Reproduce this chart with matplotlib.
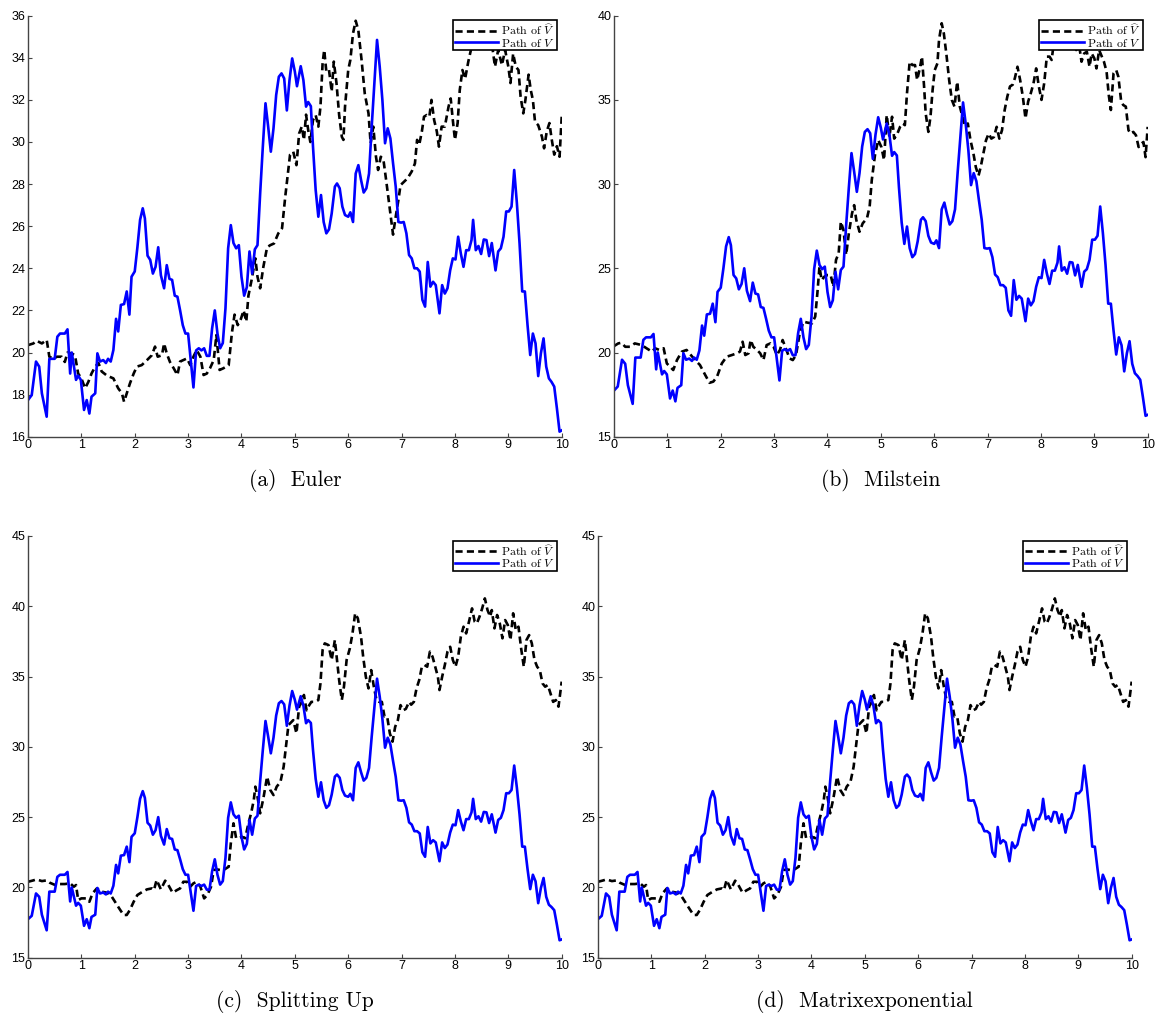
import numpy as np
import matplotlib
matplotlib.use('agg')
import matplotlib.pyplot as plt

plt.rcParams['mathtext.fontset'] = 'cm'

# time grid and exact path of V (same in every panel)
t_v = [0, 0.07, 0.15, 0.21, 0.26, 0.35, 0.4, 0.46, 0.5, 0.55, 0.6, 0.69, 0.74, 0.79, 0.82, 0.85, 0.9, 0.94, 0.99,
       1.05, 1.1, 1.15, 1.19, 1.26, 1.3, 1.35, 1.41, 1.46, 1.5, 1.55, 1.6, 1.65, 1.69, 1.74, 1.8, 1.85, 1.9, 1.94,
       2.0, 2.05, 2.1, 2.15, 2.19, 2.24, 2.29, 2.34, 2.39, 2.44, 2.49, 2.55, 2.6, 2.65, 2.7, 2.75, 2.8, 2.85, 2.9, 2.95,
       3.0, 3.05, 3.1, 3.15, 3.2, 3.25, 3.3, 3.35, 3.4, 3.45, 3.5, 3.55, 3.6, 3.65, 3.7, 3.75, 3.8, 3.85, 3.9, 3.95,
       4.0, 4.05, 4.1, 4.15, 4.2, 4.25, 4.3, 4.35, 4.4, 4.45, 4.5, 4.55, 4.6, 4.65, 4.7, 4.75, 4.8, 4.85, 4.9, 4.95,
       5.0, 5.04, 5.11, 5.16, 5.21, 5.25, 5.3, 5.34, 5.39, 5.44, 5.49, 5.54, 5.59, 5.64, 5.69, 5.75, 5.79, 5.84, 5.89, 5.94,
       6.0, 6.04, 6.09, 6.14, 6.19, 6.24, 6.29, 6.34, 6.39, 6.44, 6.49, 6.54, 6.59, 6.64, 6.69, 6.74, 6.79, 6.84, 6.89, 6.94, 6.99,
       7.04, 7.09, 7.14, 7.19, 7.24, 7.29, 7.34, 7.39, 7.44, 7.49, 7.54, 7.59, 7.64, 7.71, 7.76, 7.81, 7.86, 7.91, 7.96,
       8.01, 8.06, 8.11, 8.16, 8.21, 8.26, 8.31, 8.34, 8.39, 8.44, 8.49, 8.54, 8.59, 8.64, 8.69, 8.76, 8.81, 8.86, 8.91, 8.96,
       9.01, 9.06, 9.11, 9.16, 9.21, 9.26, 9.31, 9.36, 9.41, 9.46, 9.51, 9.56, 9.61, 9.66, 9.71, 9.76, 9.81, 9.86, 9.91, 9.96, 10.0]
v_path = [17.74, 17.98, 19.57, 19.33, 18.06, 16.95, 19.7, 19.7, 19.7, 20.75, 20.9, 20.9, 21.1, 19.0, 20.0, 19.5, 18.7, 18.9, 18.7,
          17.27, 17.74, 17.1, 17.9, 18.06, 19.96, 19.57, 19.64, 19.5, 19.7, 19.57, 20.12, 21.6, 21.0, 22.26, 22.3, 22.9, 21.8, 23.6,
          23.85, 25.0, 26.3, 26.85, 26.37, 24.6, 24.4, 23.75, 24.07, 25.0, 23.67, 23.05, 24.15, 23.5, 23.45, 22.7, 22.65, 22.0, 21.3, 20.9,
          20.9, 19.64, 18.34, 20.1, 20.2, 20.1, 20.2, 19.84, 19.84, 21.15, 22.0, 20.9, 20.2, 20.45, 22.1, 24.95, 26.05, 25.2, 24.95, 25.1,
          23.6, 22.7, 23.1, 24.8, 23.75, 24.9, 25.1, 27.56, 29.78, 31.84, 30.73, 29.54, 30.65, 32.23, 33.1, 33.26, 33.02, 31.5, 32.94, 33.97,
          33.34, 32.65, 33.6, 32.94, 31.68, 31.9, 31.7, 29.78, 27.72, 26.45, 27.48, 26.2, 25.66, 25.85, 26.6, 27.88, 28.03, 27.8, 26.93, 26.53,
          26.45, 26.66, 26.2, 28.5, 28.9, 28.2, 27.6, 27.8, 28.5, 30.73, 32.8, 34.85, 33.58, 32.0, 29.94, 30.65, 30.17, 28.99, 27.88, 26.2, 26.17,
          26.2, 25.66, 24.63, 24.47, 24.0, 24.0, 23.84, 22.5, 22.18, 24.3, 23.13, 23.36, 23.2, 21.86, 23.2, 22.8, 23.05, 23.9, 24.47,
          24.42, 25.5, 24.7, 24.07, 24.86, 24.86, 25.34, 26.3, 24.86, 25.06, 24.68, 25.37, 25.34, 24.58, 25.2, 23.9, 24.8, 24.95, 25.5, 26.7,
          26.7, 26.93, 28.67, 27.1, 25.2, 22.9, 22.9, 21.3, 19.88, 20.9, 20.43, 18.88, 19.96, 20.67, 19.33, 18.77, 18.6, 18.38, 17.35, 16.24, 16.3]

# Euler approximation
t_euler = [0, 0.1, 0.16, 0.26, 0.35, 0.4, 0.48, 0.54, 0.63, 0.69, 0.74, 0.82, 0.88, 0.94, 1.0, 1.07, 1.13, 1.19, 1.26, 1.32, 1.38,
           1.48, 1.6, 1.69, 1.76, 1.8, 1.85, 1.91, 1.98, 2.04, 2.13, 2.23, 2.32, 2.38, 2.43, 2.51, 2.55, 2.6, 2.66, 2.73, 2.8, 2.85,
           2.91, 2.98, 3.04, 3.1, 3.16, 3.23, 3.29, 3.35, 3.41, 3.48, 3.53, 3.59, 3.66, 3.76, 3.82, 3.87, 3.93, 3.99, 4.04, 4.09, 4.13,
           4.19, 4.26, 4.3, 4.35, 4.41, 4.48, 4.54, 4.61, 4.69, 4.76, 4.82, 4.91, 4.97, 5.03, 5.08, 5.13, 5.17, 5.21, 5.25, 5.29, 5.34,
           5.39, 5.44, 5.48, 5.52, 5.55, 5.59, 5.64, 5.69, 5.73, 5.78, 5.83, 5.88, 5.91, 5.94, 6.0, 6.04, 6.09, 6.14, 6.19, 6.25, 6.31,
           6.38, 6.42, 6.47, 6.52, 6.56, 6.61, 6.66, 6.71, 6.75, 6.79, 6.84, 6.89, 6.94, 6.98, 7.04, 7.11, 7.19, 7.25, 7.29, 7.33, 7.38,
           7.42, 7.47, 7.52, 7.56, 7.61, 7.66, 7.7, 7.75, 7.81, 7.88, 7.92, 7.96, 8.0, 8.05, 8.09, 8.14, 8.19, 8.25, 8.31, 8.38, 8.47,
           8.53, 8.59, 8.69, 8.75, 8.81, 8.88, 8.94, 9.0, 9.04, 9.09, 9.14, 9.19, 9.23, 9.28, 9.32, 9.38, 9.42, 9.46, 9.5, 9.56, 9.63,
           9.67, 9.72, 9.77, 9.81, 9.86, 9.91, 9.96, 10.0]
euler_path = [20.35, 20.43, 20.56, 20.43, 20.6, 19.8, 19.7, 19.8, 19.8, 19.55, 20.0, 19.95, 19.87, 19.0, 18.77, 18.3, 18.6, 19.0, 19.33,
              19.5, 19.1, 18.9, 18.77, 18.3, 18.06, 17.66, 18.06, 18.53, 19.0, 19.33, 19.4, 19.64, 19.87, 20.28, 19.8, 19.87, 20.43,
              19.95, 19.55, 19.25, 18.93, 19.57, 19.64, 19.72, 19.4, 19.8, 20.12, 19.8, 18.93, 19.0, 19.25, 19.64, 20.83, 19.17, 19.25,
              19.4, 20.92, 21.8, 21.3, 21.6, 22.0, 21.47, 22.7, 23.45, 24.47, 23.6, 23.05, 24.07, 25.0, 25.1, 25.18, 25.66, 25.9, 27.4,
              29.4, 29.54, 28.9, 30.4, 30.73, 30.1, 31.3, 30.57, 30.0, 31.04, 31.28, 30.73, 31.68, 33.74, 34.37, 33.34, 33.42, 32.4,
              33.82, 32.8, 31.28, 30.25, 30.1, 31.68, 33.42, 33.9, 35.16, 35.76, 35.3, 33.9, 32.3, 31.36, 29.94, 30.73, 29.3, 28.67,
              29.3, 29.15, 28.2, 27.4, 26.6, 25.6, 26.45, 27.24, 27.95, 28.1, 28.27, 28.6, 28.98, 30.1, 29.86, 30.5, 31.2, 31.28, 31.2,
              32.0, 31.04, 30.5, 29.78, 30.73, 30.73, 31.68, 32.07, 31.04, 30.1, 30.9, 32.47, 33.42, 33.0, 33.82, 34.5, 34.85, 35.3,
              35.6, 35.3, 34.7, 33.58, 34.37, 33.65, 34.37, 33.58, 32.8, 34.2, 33.58, 33.42, 32.15, 31.36, 32.0, 33.2, 32.47, 32.0,
              30.96, 30.8, 30.25, 29.7, 30.5, 30.9, 30.17, 29.4, 29.8, 29.3, 31.2]

# Milstein approximation
t_milstein = [0, 0.08, 0.14, 0.21, 0.3, 0.39, 0.52, 0.61, 0.71, 0.77, 0.85, 0.93, 0.99, 1.05, 1.11, 1.18, 1.27, 1.36, 1.44, 1.52,
              1.61, 1.71, 1.79, 1.86, 1.93, 2.02, 2.11, 2.21, 2.3, 2.36, 2.41, 2.46, 2.52, 2.56, 2.61, 2.68, 2.74, 2.8, 2.86, 2.93,
              2.99, 3.05, 3.11, 3.16, 3.23, 3.29, 3.35, 3.41, 3.48, 3.55, 3.63, 3.71, 3.77, 3.81, 3.85, 3.89, 3.94, 4.0, 4.06, 4.11,
              4.16, 4.21, 4.25, 4.3, 4.35, 4.4, 4.46, 4.5, 4.54, 4.6, 4.66, 4.74, 4.79, 4.83, 4.89, 4.95, 5.01, 5.06, 5.11, 5.16, 5.21,
              5.25, 5.31, 5.36, 5.41, 5.45, 5.49, 5.54, 5.59, 5.64, 5.68, 5.73, 5.77, 5.81, 5.84, 5.89, 5.93, 5.97, 6.01, 6.06, 6.09,
              6.14, 6.18, 6.23, 6.28, 6.33, 6.38, 6.43, 6.48, 6.53, 6.58, 6.63, 6.68, 6.73, 6.78, 6.83, 6.87, 6.92, 6.97, 7.02, 7.07,
              7.12, 7.17, 7.22, 7.27, 7.32, 7.37, 7.42, 7.47, 7.51, 7.56, 7.61, 7.66, 7.71, 7.76, 7.81, 7.86, 7.91, 7.96, 8.01, 8.06,
              8.11, 8.16, 8.2, 8.24, 8.29, 8.36, 8.42, 8.48, 8.58, 8.66, 8.71, 8.76, 8.81, 8.86, 8.91, 8.95, 9.0, 9.04, 9.09, 9.14,
              9.18, 9.23, 9.27, 9.31, 9.36, 9.41, 9.45, 9.5, 9.54, 9.59, 9.64, 9.68, 9.73, 9.78, 9.83, 9.88, 9.92, 9.96, 10.0]
milstein_path = [20.38, 20.54, 20.58, 20.34, 20.34, 20.54, 20.44, 20.25, 20.05, 20.25, 20.15, 20.25, 19.35, 19.16, 18.96, 19.55,
                 20.05, 20.15, 19.85, 19.55, 19.26, 18.66, 18.2, 18.27, 18.56, 19.35, 19.75, 19.85, 19.95, 20.05, 20.64, 19.85,
                 19.95, 20.74, 20.34, 20.15, 19.95, 19.55, 20.44, 20.54, 20.34, 19.85, 20.15, 20.74, 20.15, 19.65, 19.55, 19.85,
                 21.14, 21.83, 21.77, 21.73, 22.13, 23.5, 25.1, 24.3, 24.5, 24.6, 24.6, 23.9, 25.5, 25.9, 27.77, 27.27, 25.8, 27.07,
                 28.26, 28.75, 27.87, 27.17, 27.67, 27.97, 28.66, 30.24, 31.72, 32.62, 32.2, 31.43, 34.1, 32.8, 34.0, 32.7, 33.0,
                 33.4, 33.6, 33.5, 35.4, 37.27, 37.07, 37.07, 36.18, 36.87, 37.57, 35.8, 34.2, 33.1, 34.0, 35.6, 36.77, 37.17, 38.56,
                 39.55, 38.95, 37.66, 36.18, 35.0, 34.6, 36.08, 34.6, 34.0, 33.4, 33.6, 32.6, 31.9, 31.0, 30.5, 31.0, 31.8, 32.6,
                 33.0, 32.7, 32.8, 33.4, 32.7, 33.2, 34.4, 35.2, 35.8, 35.9, 36.28, 36.97, 36.18, 35.2, 33.9, 34.9, 35.4, 35.98,
                 36.87, 35.8, 35.0, 35.98, 37.57, 37.57, 37.37, 38.36, 38.95, 39.15, 38.46, 38.75, 38.95, 37.96, 38.36, 37.27,
                 37.76, 37.86, 36.97, 37.76, 37.47, 36.87, 37.96, 37.57, 37.27, 36.67, 35.3, 34.4, 36.58, 36.77, 36.38, 35.0, 34.7,
                 34.6, 33.2, 33.0, 33.1, 32.9, 32.2, 32.4, 32.5, 31.6, 33.4]

# splitting up / matrix exponential approximation (both give this path)
t_split = [0, 0.1, 0.16, 0.26, 0.35, 0.41, 0.51, 0.6, 0.69, 0.79, 0.86, 0.9, 0.94, 1.0, 1.09, 1.15, 1.21, 1.29, 1.38, 1.48, 1.57,
           1.63, 1.71, 1.79, 1.85, 1.91, 1.98, 2.05, 2.15, 2.23, 2.32, 2.36, 2.41, 2.49, 2.57, 2.63, 2.71, 2.79, 2.85, 2.91, 2.98,
           3.04, 3.1, 3.16, 3.23, 3.3, 3.36, 3.43, 3.48, 3.54, 3.6, 3.68, 3.76, 3.8, 3.85, 3.9, 3.94, 4.01, 4.07, 4.13, 4.18, 4.23,
           4.26, 4.3, 4.35, 4.41, 4.48, 4.54, 4.6, 4.66, 4.73, 4.79, 4.84, 4.88, 4.97, 5.03, 5.08, 5.13, 5.17, 5.22, 5.27, 5.31,
           5.38, 5.44, 5.48, 5.52, 5.56, 5.63, 5.69, 5.75, 5.79, 5.83, 5.88, 5.92, 5.97, 6.03, 6.08, 6.13, 6.18, 6.24, 6.28, 6.33,
           6.38, 6.43, 6.48, 6.53, 6.58, 6.63, 6.68, 6.73, 6.78, 6.83, 6.88, 6.93, 6.98, 7.03, 7.08, 7.14, 7.18, 7.23, 7.28, 7.33,
           7.38, 7.43, 7.48, 7.53, 7.58, 7.63, 7.68, 7.71, 7.76, 7.81, 7.86, 7.91, 7.96, 8.01, 8.06, 8.11, 8.16, 8.21, 8.27, 8.32,
           8.37, 8.41, 8.46, 8.51, 8.56, 8.61, 8.66, 8.69, 8.74, 8.79, 8.84, 8.89, 8.94, 8.99, 9.04, 9.09, 9.14, 9.19, 9.24, 9.29,
           9.34, 9.39, 9.44, 9.49, 9.54, 9.59, 9.64, 9.69, 9.74, 9.79, 9.84, 9.89, 9.94, 10.0]
split_path = [20.4, 20.5, 20.57, 20.45, 20.5, 20.33, 20.17, 20.24, 20.24, 20.29, 20.05, 20.17, 19.1, 19.22, 19.22, 18.98, 19.58,
              19.93, 19.7, 19.62, 19.34, 18.98, 18.5, 18.04, 18.04, 18.4, 18.98, 19.46, 19.7, 19.86, 19.93, 19.81, 20.53, 19.86,
              20.48, 20.17, 19.62, 19.81, 19.93, 20.4, 20.4, 20.05, 20.29, 20.4, 20.05, 19.22, 19.46, 20.05, 21.24, 21.28, 21.24,
              21.28, 21.47, 23.13, 24.56, 23.5, 23.5, 23.6, 23.5, 24.56, 25.27, 26.2, 27.17, 26.45, 25.27, 26.33, 27.88, 26.93,
              26.57, 27.17, 27.5, 28.59, 30.25, 31.55, 31.9, 30.96, 32.86, 33.2, 33.69, 32.6, 32.97, 33.2, 33.2, 33.33, 34.52, 36.89,
              37.36, 37.24, 36.18, 37.6, 36.18, 34.75, 33.33, 34.28, 36.18, 37.0, 38.07, 39.5, 39.14, 37.83, 36.41, 34.99, 34.16,
              35.46, 34.28, 33.33, 33.2, 33.2, 32.15, 32.15, 30.96, 30.37, 31.43, 31.9, 32.97, 32.6, 32.7, 33.2, 33.0, 33.2, 34.16,
              34.75, 35.7, 35.82, 35.7, 36.77, 36.41, 35.7, 34.99, 34.04, 34.99, 35.82, 36.77, 37.12, 36.18, 35.7, 36.41, 37.83,
              38.55, 38.07, 39.02, 39.85, 38.9, 38.78, 39.26, 39.85, 40.56, 39.73, 39.26, 39.73, 38.43, 39.38, 38.78, 37.72, 39.02,
              38.67, 37.6, 39.5, 38.3, 38.55, 37.0, 35.7, 37.6, 37.95, 37.36, 36.18, 35.7, 35.46, 34.52, 34.28, 34.4, 33.8, 33.2,
              33.33, 32.86, 34.64]

W, H = 1157, 1019
fig = plt.figure(figsize=(W / 100, H / 100), dpi=100)

panels = [
    # left, top, right, bottom in pixels
    ((28, 15.7, 561.7, 436.7), t_euler, euler_path, (16, 36), np.arange(16, 37, 2), '(a)  Euler'),
    ((614, 15.7, 1147.7, 436.7), t_milstein, milstein_path, (15, 40), np.arange(15, 41, 5), '(b)  Milstein'),
    ((28, 536, 561.7, 957.7), t_split, split_path, (15, 45), np.arange(15, 46, 5), '(c)  Splitting Up'),
    ((598, 536, 1131.7, 957.7), t_split, split_path, (15, 45), np.arange(15, 46, 5), '(d)  Matrixexponential'),
]

for box, t_hat, v_hat, ylim, yticks, caption in panels:
    l, t, r, b = box
    ax = fig.add_axes([l / W, 1 - b / H, (r - l) / W, (b - t) / H])
    ax.plot(t_hat, v_hat, color='black', lw=1.9, dashes=(2.7, 1.6), label=r'Path of $\widehat{V}$')
    ax.plot(t_v, v_path, color='blue', lw=1.9, label=r'Path of $V$')
    ax.set_xlim(0, 10)
    ax.set_ylim(*ylim)
    ax.set_xticks(np.arange(0, 11, 1))
    ax.set_yticks(yticks)
    for side in ['top', 'right']:
        ax.spines[side].set_visible(False)
    for side in ['left', 'bottom']:
        ax.spines[side].set_color('#444444')
        ax.spines[side].set_linewidth(1.0)
    ax.tick_params(direction='in', length=3, width=0.8, color='#444444', labelsize=9, pad=2)
    for lab in ax.get_xticklabels() + ax.get_yticklabels():
        lab.set_fontfamily('Liberation Sans')
    leg = ax.legend(loc='upper right', prop={'family': 'cmr10', 'size': 8.6},
                    fancybox=False, framealpha=1, edgecolor='black', borderpad=0.15,
                    handlelength=3.6, handletextpad=0.25, labelspacing=-0.05, borderaxespad=0.4)
    leg.get_frame().set_linewidth(1.2)
    fig.text((l + r) / 2 / W, 1 - (b + 44) / H, caption, ha='center', va='center',
             family='cmr10', fontsize=15.5)

fig.savefig('out.png', dpi=100)
